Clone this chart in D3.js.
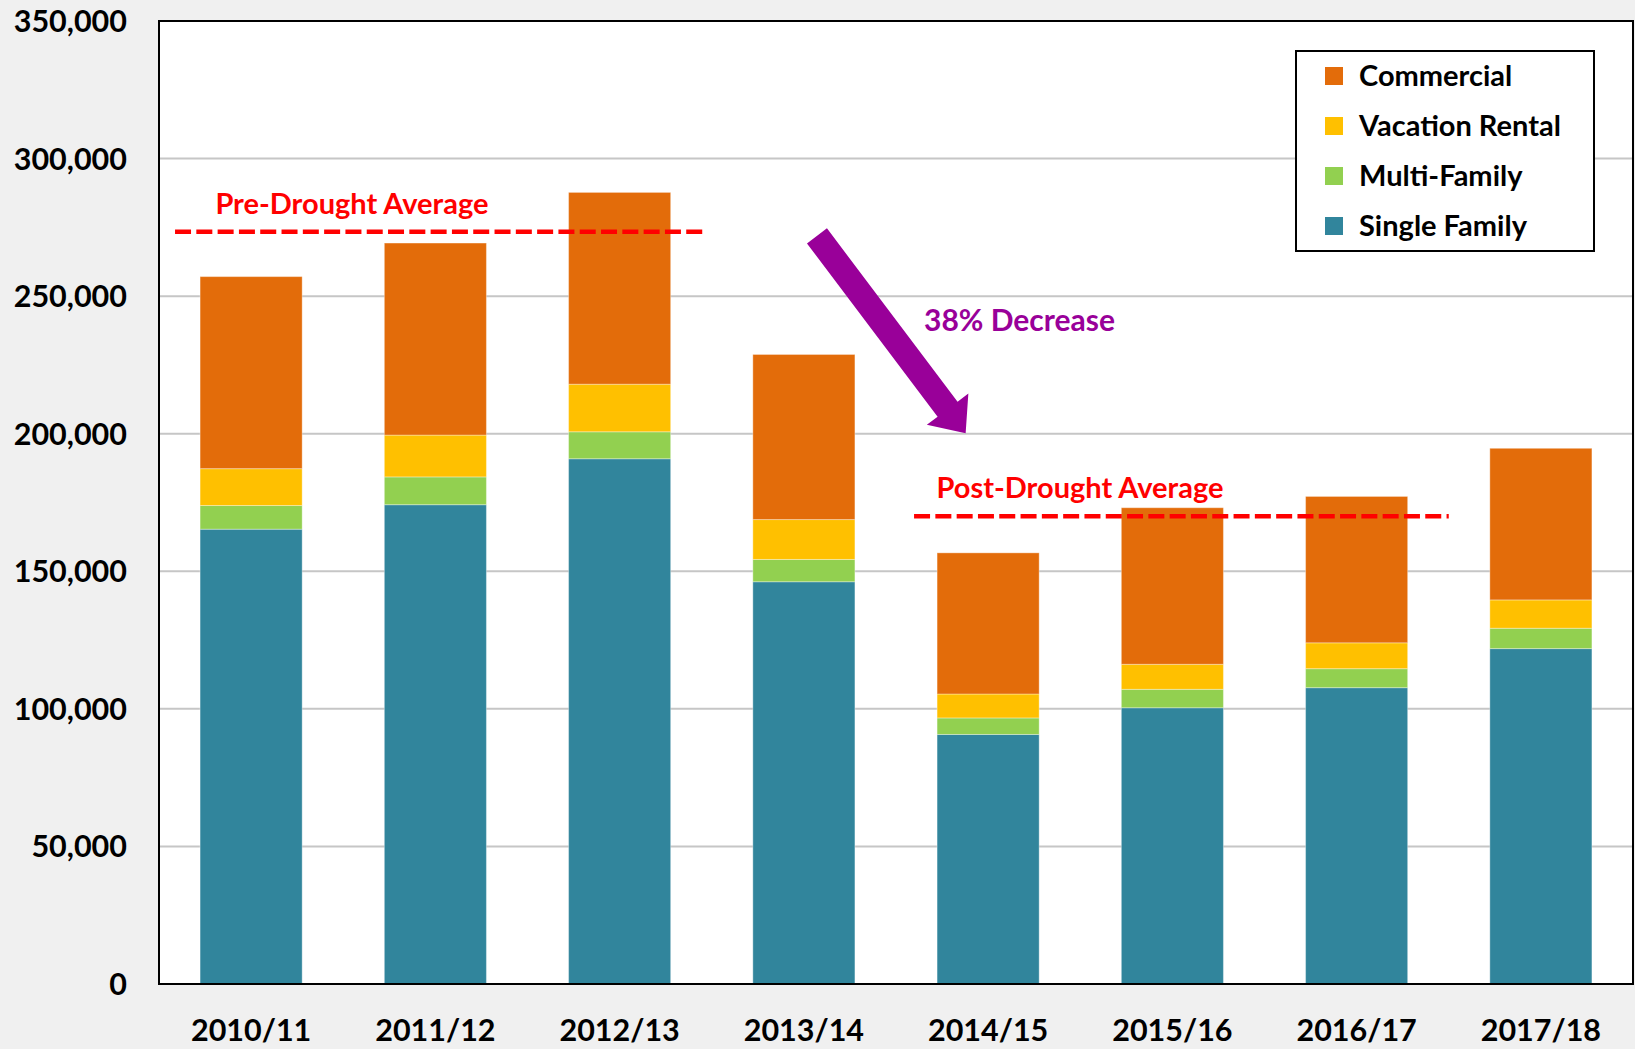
<!DOCTYPE html>
<html>
<head>
<meta charset="utf-8">
<script src="https://cdn.jsdelivr.net/npm/d3@7/dist/d3.min.js"></script>
<style>
  body { margin: 0; background: #f0f0f0; }
  svg text { font-family: Lato, "Noto Sans", sans-serif; font-weight: 700; }
</style>
</head>
<body>
<svg id="chart"></svg>
<script>
// data
var years = ["2010/11", "2011/12", "2012/13", "2013/14", "2014/15", "2015/16", "2016/17", "2017/18"];
var singleFamily = [165300, 174200, 190900, 146200, 90700, 100400, 107700, 121900];
var multiFamily  = [8600, 10100, 9800, 8100, 6000, 6700, 6900, 7400];
var vacationRental = [13400, 15200, 17300, 14500, 8700, 9100, 9400, 10300];
var commercial   = [69800, 69800, 69700, 60000, 51300, 56900, 53200, 55100];
var seriesNames = ["Single Family", "Multi-Family", "Vacation Rental", "Commercial"];
var seriesColors = ["#31859c", "#92d050", "#ffc000", "#e36c0a"];
var yTicks = [0, 50000, 100000, 150000, 200000, 250000, 300000, 350000];

// annotations (x in category units, y in data units)
var preDrought = { value: 273400, from: 0.087, to: 2.953, label: "Pre-Drought Average", labelAt: 0.306 };
var postDrought = { value: 170000, from: 4.098, to: 7.0, label: "Post-Drought Average", labelAt: 4.22 };
var decrease = { from: [3.571, 271900], to: [4.378, 200200], label: "38% Decrease", labelAt: [4.152, 237400] };

var width = 1635, height = 1049;
var margin = { top: 21, right: 2, bottom: 65, left: 159 };

var svg = d3.select("#chart").attr("width", width).attr("height", height);

var x = d3.scaleBand().domain(years)
    .range([margin.left, width - margin.right])
    .paddingInner(0.446).paddingOuter(0.223);
var xPos = d3.scaleLinear().domain([0, years.length]).range([margin.left, width - margin.right]);
var y = d3.scaleLinear().domain([0, 350000]).range([height - margin.bottom, margin.top]);

// plot area
svg.append("rect")
    .attr("x", margin.left).attr("y", margin.top)
    .attr("width", width - margin.right - margin.left)
    .attr("height", height - margin.bottom - margin.top)
    .attr("fill", "#fff");

// gridlines
svg.append("g").selectAll("line")
    .data(yTicks.slice(1, -1))
    .enter().append("line")
    .attr("x1", margin.left).attr("x2", width - margin.right)
    .attr("y1", d => y(d)).attr("y2", d => y(d))
    .attr("stroke", "#c6c6c6").attr("stroke-width", 2);

// stacked bars
var rows = years.map(function (yr, i) {
    return { year: yr, "Single Family": singleFamily[i], "Multi-Family": multiFamily[i],
             "Vacation Rental": vacationRental[i], "Commercial": commercial[i] };
});
var stacked = d3.stack().keys(seriesNames)(rows);

svg.append("g").selectAll("g")
    .data(stacked)
    .enter().append("g")
    .attr("fill", (d, i) => seriesColors[i])
    .selectAll("rect")
    .data(d => d)
    .enter().append("rect")
    .attr("x", d => x(d.data.year))
    .attr("width", x.bandwidth())
    .attr("y", d => y(d[1]))
    .attr("height", d => y(d[0]) - y(d[1]))
    .attr("stroke", "rgba(255,255,255,0.35)")
    .attr("stroke-width", 1);

// plot border
svg.append("rect")
    .attr("x", margin.left).attr("y", margin.top)
    .attr("width", width - margin.right - margin.left)
    .attr("height", height - margin.bottom - margin.top)
    .attr("fill", "none").attr("stroke", "#000").attr("stroke-width", 2);

// y axis labels
svg.append("g").selectAll("text")
    .data(yTicks)
    .enter().append("text")
    .attr("x", margin.left - 32)
    .attr("y", d => y(d))
    .attr("dy", "0.36em")
    .attr("text-anchor", "end")
    .attr("font-size", 30.5)
    .text(d => d3.format(",")(d));

// x axis labels
svg.append("g").selectAll("text")
    .data(years)
    .enter().append("text")
    .attr("x", d => x(d) + x.bandwidth() / 2)
    .attr("y", height - 8)
    .attr("text-anchor", "middle")
    .attr("font-size", 30.5)
    .text(d => d);

// average lines
[preDrought, postDrought].forEach(function (a) {
    svg.append("line")
        .attr("x1", xPos(a.from)).attr("x2", xPos(a.to))
        .attr("y1", y(a.value)).attr("y2", y(a.value))
        .attr("stroke", "#ff0000").attr("stroke-width", 4.5)
        .attr("stroke-dasharray", "16,5.3");
    svg.append("text")
        .attr("x", xPos(a.labelAt)).attr("y", y(a.value) - 18)
        .attr("fill", "#ff0000").attr("font-size", 29)
        .text(a.label);
});

// block arrow for the decrease
var ax0 = xPos(decrease.from[0]), ay0 = y(decrease.from[1]);
var ax1 = xPos(decrease.to[0]), ay1 = y(decrease.to[1]);
var len = Math.hypot(ax1 - ax0, ay1 - ay0);
var ang = Math.atan2(ay1 - ay0, ax1 - ax0) * 180 / Math.PI;
var shaftW = 25, headW = 52, headL = 30;
svg.append("path")
    .attr("transform", "translate(" + ax0 + "," + ay0 + ") rotate(" + ang + ")")
    .attr("d", d3.line()([
        [0, -shaftW / 2], [len - headL, -shaftW / 2], [len - headL, -headW / 2], [len, 0],
        [len - headL, headW / 2], [len - headL, shaftW / 2], [0, shaftW / 2]
    ]) + "Z")
    .attr("fill", "#990099");
svg.append("text")
    .attr("x", xPos(decrease.labelAt[0])).attr("y", y(decrease.labelAt[1]))
    .attr("fill", "#990099").attr("font-size", 30)
    .text(decrease.label);

// legend
var legend = svg.append("g").attr("transform", "translate(1296,51)");
legend.append("rect")
    .attr("width", 298).attr("height", 200)
    .attr("fill", "#fff").attr("stroke", "#000").attr("stroke-width", 2);
var legendItems = legend.selectAll(".item")
    .data(seriesNames.slice().reverse())
    .enter().append("g")
    .attr("class", "item")
    .attr("transform", (d, i) => "translate(0," + (25 + i * 50) + ")");
legendItems.append("rect")
    .attr("x", 29).attr("y", -9).attr("width", 18).attr("height", 18)
    .attr("fill", d => seriesColors[seriesNames.indexOf(d)]);
legendItems.append("text")
    .attr("x", 63).attr("dy", "0.36em")
    .attr("font-size", 29)
    .text(d => d);
</script>
</body>
</html>
